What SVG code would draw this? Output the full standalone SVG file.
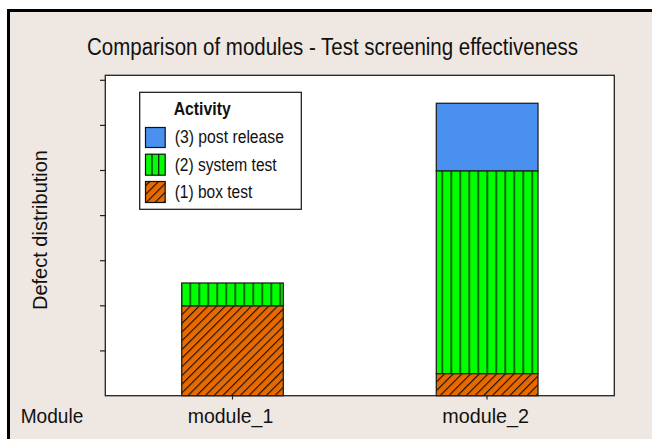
<svg xmlns="http://www.w3.org/2000/svg" width="652" height="439" viewBox="0 0 652 439">
<defs>
<style>
.t{font-family:"Liberation Sans",Arial,sans-serif;fill:#111}
.frame{fill:#fff;stroke:#222;stroke-width:1.3}
.bar{stroke:#222;stroke-width:1.3}
.tick{stroke:#222;stroke-width:1.2}
</style>
<pattern id="vstripe" patternUnits="userSpaceOnUse" width="9" height="10" x="0.5" y="0">
<rect width="9" height="10" fill="#00ff00"/>
<rect x="0" y="0" width="1.4" height="10" fill="#0a2a0a"/>
</pattern>
<pattern id="hatch" patternUnits="userSpaceOnUse" width="6.15" height="10" patternTransform="rotate(45)">
<rect width="6.15" height="10" fill="#e66a00"/>
<rect x="0" y="0" width="1.1" height="10" fill="#1a0d00"/>
</pattern>
</defs>
<rect width="652" height="439" fill="#fff"/>
<rect x="8.5" y="10.5" width="645" height="430" fill="#efe7e1" stroke="#000" stroke-width="3"/>
<g id="title"><text class="t" x="87" y="55" font-size="23" textLength="491" lengthAdjust="spacingAndGlyphs">Comparison of modules - Test screening effectiveness</text></g>
<g id="plot">
<rect class="frame" x="105.3" y="75.3" width="509" height="320.4"/>
<g class="tick">
<line x1="100" y1="80.3" x2="105.3" y2="80.3"/>
<line x1="100" y1="125.4" x2="105.3" y2="125.4"/>
<line x1="100" y1="170.5" x2="105.3" y2="170.5"/>
<line x1="100" y1="215.6" x2="105.3" y2="215.6"/>
<line x1="100" y1="260.7" x2="105.3" y2="260.7"/>
<line x1="100" y1="305.8" x2="105.3" y2="305.8"/>
<line x1="100" y1="350.9" x2="105.3" y2="350.9"/>
<line x1="232.5" y1="395.7" x2="232.5" y2="399.5"/>
<line x1="487" y1="395.7" x2="487" y2="399.5"/>
</g>
</g>
<g id="bar-module_1">
<rect class="bar" x="181.7" y="283" width="101.6" height="23" fill="url(#vstripe)"/>
<rect class="bar" x="181.7" y="306" width="101.6" height="89.7" fill="url(#hatch)"/>
</g>
<g id="bar-module_2">
<rect class="bar" x="436.3" y="103.3" width="101.7" height="67.7" fill="#4a90f0"/>
<rect class="bar" x="436.3" y="171" width="101.7" height="202.7" fill="url(#vstripe)"/>
<rect class="bar" x="436.3" y="373.7" width="101.7" height="22" fill="url(#hatch)"/>
</g>
<g id="legend">
<rect x="139.7" y="92.3" width="161.6" height="117" fill="#fff" stroke="#111" stroke-width="1.2"/>
<text class="t" x="173.7" y="115" font-size="18" font-weight="bold" textLength="57" lengthAdjust="spacingAndGlyphs">Activity</text>
<rect x="145.5" y="127.5" width="19.7" height="20" fill="#4a90f0" stroke="#111" stroke-width="1.2"/>
<rect x="145.5" y="154.2" width="19.7" height="21" fill="#00ff00" stroke="#111" stroke-width="1.2"/>
<line x1="152" y1="154.2" x2="152" y2="175.2" stroke="#111" stroke-width="1.2"/>
<line x1="158.7" y1="154.2" x2="158.7" y2="175.2" stroke="#111" stroke-width="1.2"/>
<rect x="145.5" y="181.5" width="19.7" height="21" fill="url(#hatch)" stroke="#111" stroke-width="1.2"/>
<text class="t" x="174.7" y="143.3" font-size="17.5" textLength="109.3" lengthAdjust="spacingAndGlyphs">(3) post release</text>
<text class="t" x="174.7" y="170.7" font-size="17.5" textLength="102" lengthAdjust="spacingAndGlyphs">(2) system test</text>
<text class="t" x="174.7" y="198.3" font-size="17.5" textLength="77.6" lengthAdjust="spacingAndGlyphs">(1) box test</text>
</g>
<g id="axis-labels">
<text class="t" transform="translate(46.7,310) rotate(-90)" x="0" y="0" font-size="21" textLength="160" lengthAdjust="spacingAndGlyphs">Defect distribution</text>
<text class="t" x="20.7" y="422.7" font-size="21" textLength="62.6" lengthAdjust="spacingAndGlyphs">Module</text>
<text class="t" x="187.7" y="423.3" font-size="21" textLength="85.6" lengthAdjust="spacingAndGlyphs">module_1</text>
<text class="t" x="442.3" y="423.3" font-size="21" textLength="86.7" lengthAdjust="spacingAndGlyphs">module_2</text>
</g>
</svg>
